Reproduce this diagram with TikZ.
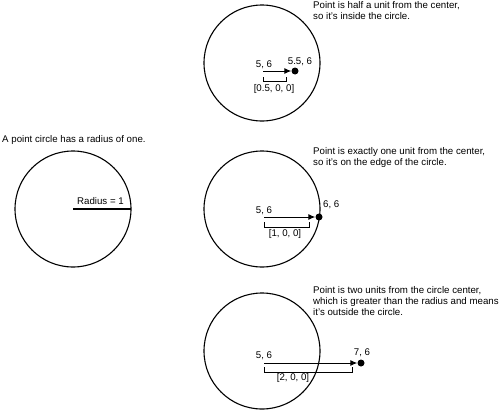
\documentclass[tikz,border=0pt]{standalone}
\usepackage{fontspec}
\setmainfont{Liberation Sans}
\usetikzlibrary{arrows.meta}
\begin{document}
\begin{tikzpicture}[x=1pt,y=-1pt,
  ring/.style={draw,line width=1.1pt},
  lbl/.style={inner sep=0pt,font=\fontsize{9.7}{11}\selectfont},
  note/.style={inner sep=0pt,anchor=north west,align=left,font=\fontsize{9.7}{11}\selectfont},
  pt/.style={circle,fill,inner sep=0pt,minimum size=7pt},
  vec/.style={line width=1pt,-{Latex[length=7pt,width=6pt]}},
  brk/.style={line width=0.9pt}]
\useasboundingbox (0,0) rectangle (500,415);

% left circle
\node[note] (t0) at (2,135) {A point circle has a radius of one.};
\draw[ring] (73,209) circle[radius=58];
\coordinate (rc) at (73,209);
\coordinate (re) at (131,209);
\draw[line width=1.1pt] (rc) -- (re);
\node[lbl,anchor=base east] (rl) at (124,204) {Radius = 1};

% top circle
\draw[ring] (262,63) circle[radius=58];
\node[note] (t1) at (313,1.5) {Point is half a unit from the center,\\so it's inside the circle.};
\coordinate (s1) at (263,71);
\node[pt] (d1) at (295,71) {};
\draw[vec] (s1) -- (d1);
\node[lbl,anchor=base] (a1) at (264,67) {5, 6};
\node[lbl,anchor=base] (b1) at (300,64) {5.5, 6};
\coordinate (k1a) at (263,77);
\coordinate (k1b) at (286,77);
\draw[brk] (k1a) -- ++(0,4) -| (k1b);
\node[lbl] (c1) at (274,89) {[0.5, 0, 0]};

% middle circle
\draw[ring] (262,209) circle[radius=58];
\node[note] (t2) at (313,147.5) {Point is exactly one unit from the center,\\so it's on the edge of the circle.};
\coordinate (s2) at (264,217);
\node[pt] (d2) at (319,217) {};
\draw[vec] (s2) -- (d2);
\node[lbl,anchor=base] (a2) at (264,213) {5, 6};
\node[lbl,anchor=base west] (b2) at (323,207) {6, 6};
\coordinate (k2a) at (264,222);
\coordinate (k2b) at (309,222);
\draw[brk] (k2a) -- ++(0,5) -| (k2b);
\node[lbl] (c2) at (285,234) {[1, 0, 0]};

% bottom circle
\node[note] (t3) at (313,286.5) {Point is two units from the circle center,\\which is greater than the radius and means\\it's outside the circle.};
\coordinate (s3) at (264,363);
\node[pt] (d3) at (361,363) {};
\draw[vec] (s3) -- (d3);
\node[lbl,anchor=base] (a3) at (264,358) {5, 6};
\node[lbl,anchor=base] (b3) at (362,355) {7, 6};
\coordinate (k3a) at (264,367);
\coordinate (k3b) at (352,367);
\draw[brk] (k3a) -- ++(0,5) -| (k3b);
\node[lbl] (c3) at (293,378) {[2, 0, 0]};
\draw[ring] (262,351) circle[radius=58];
\end{tikzpicture}
\end{document}
